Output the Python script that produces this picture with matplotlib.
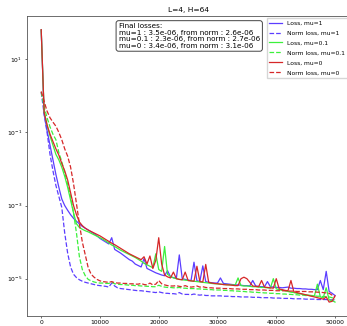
import numpy as np
import matplotlib
matplotlib.use("Agg")
import matplotlib.pyplot as plt

# training steps, one point every 500 steps
steps = np.arange(0, 50001, 500)

# log10 of the losses
lg_loss_mu1 = [1.8, -0.5, -0.95, -1.35, -1.75, -2.15, -2.5, -2.82, -3.0, -3.13,
               -3.25, -3.35, -3.43, -3.5, -3.57, -3.62, -3.67, -3.72, -3.77, -3.83,
               -3.9, -3.95, -4.0, -4.05, -3.88, -4.2, -4.25, -4.3, -4.36, -4.42,
               -4.48, -4.52, -4.6, -4.64, -4.68, -4.45, -4.72, -4.76, -4.8, -4.84,
               -4.87, -4.9, -4.92, -4.78, -4.95, -4.97, -4.99, -4.35, -5.0, -5.02,
               -5.04, -5.05, -4.55, -5.06, -5.07, -4.65, -5.08, -5.1, -5.11, -5.12,
               -5.12, -4.98, -5.13, -5.14, -5.15, -5.16, -5.17, -5.17, -5.18, -5.19,
               -5.19, -5.2, -5.05, -5.2, -5.21, -5.22, -5.22, -5.08, -5.22, -5.23,
               -5.24, -5.24, -5.25, -5.24, -5.23, -5.26, -5.26, -5.27, -5.27, -5.28,
               -5.28, -5.29, -5.29, -5.3, -5.3, -5.05, -5.3, -4.8, -5.35, -5.4,
               -5.46]
lg_norm_mu1 = [0.1, -0.5, -1.0, -1.6, -2.05, -2.45, -2.75, -3.05, -3.75, -4.3,
               -4.68, -4.88, -4.97, -5.03, -5.07, -5.1, -5.12, -5.14, -5.16, -5.18,
               -5.19, -5.2, -5.21, -5.23, -5.12, -5.2, -5.25, -5.27, -5.28, -5.29,
               -5.3, -5.31, -5.32, -5.33, -5.33, -5.34, -5.35, -5.36, -5.37, -5.38,
               -5.36, -5.38, -5.4, -5.4, -5.41, -5.41, -5.42, -5.38, -5.42, -5.43,
               -5.43, -5.44, -5.42, -5.44, -5.45, -5.44, -5.46, -5.46, -5.47, -5.47,
               -5.47, -5.47, -5.48, -5.48, -5.48, -5.49, -5.49, -5.49, -5.5, -5.5,
               -5.5, -5.5, -5.51, -5.51, -5.51, -5.52, -5.52, -5.52, -5.52, -5.53,
               -5.53, -5.53, -5.54, -5.54, -5.54, -5.54, -5.55, -5.55, -5.55, -5.55,
               -5.56, -5.56, -5.56, -5.56, -5.57, -5.57, -5.57, -5.57, -5.58, -5.58,
               -5.59]
lg_loss_mu01 = [1.8, -0.45, -0.8, -1.1, -1.35, -1.6, -1.75, -1.95, -2.2, -2.5,
                -2.85, -3.2, -3.5, -3.6, -3.65, -3.69, -3.72, -3.76, -3.8, -3.84,
                -3.88, -3.92, -3.97, -4.02, -4.08, -4.12, -4.17, -4.22, -4.26, -4.3,
                -4.34, -4.38, -4.42, -4.47, -4.52, -4.58, -4.62, -4.66, -4.7, -4.32,
                -4.75, -4.8, -4.12, -4.88, -4.94, -4.98, -5.0, -5.02, -5.03, -5.04,
                -5.05, -5.06, -5.07, -5.08, -5.09, -5.1, -5.11, -5.12, -5.13, -5.14,
                -5.14, -5.15, -5.16, -5.16, -5.17, -5.17, -5.18, -4.98, -5.19, -5.2,
                -5.2, -5.21, -5.22, -5.22, -5.23, -5.24, -5.24, -5.25, -5.26, -5.0,
                -5.28, -5.3, -5.32, -5.33, -5.35, -5.37, -5.38, -5.4, -5.41, -5.43,
                -5.44, -5.45, -5.46, -5.47, -5.15, -5.5, -5.52, -5.25, -5.58, -5.6,
                -5.64]
lg_norm_mu01 = [0.1, -0.3, -0.6, -0.85, -1.05, -1.2, -1.55, -1.8, -2.1, -2.42,
                -2.75, -3.2, -3.75, -4.4, -4.75, -4.92, -5.02, -5.06, -5.09, -5.11,
                -5.12, -5.12, -5.13, -5.13, -5.1, -5.14, -5.15, -5.16, -5.16, -5.17,
                -5.18, -5.18, -5.19, -5.19, -5.2, -5.2, -5.21, -5.21, -5.22, -5.22,
                -5.18, -5.21, -5.23, -5.24, -5.24, -5.25, -5.25, -5.24, -5.26, -5.26,
                -5.27, -5.27, -5.27, -5.28, -5.28, -5.29, -5.29, -5.3, -5.3, -5.31,
                -5.31, -5.31, -5.32, -5.32, -5.33, -5.33, -5.34, -5.34, -5.35, -5.35,
                -5.36, -5.36, -5.37, -5.37, -5.38, -5.38, -5.39, -5.39, -5.4, -5.4,
                -5.41, -5.41, -5.42, -5.42, -5.43, -5.43, -5.44, -5.44, -5.45, -5.45,
                -5.46, -5.46, -5.47, -5.47, -5.48, -5.48, -5.49, -5.49, -5.5, -5.52,
                -5.57]
lg_loss_mu0 = [1.81, -0.45, -0.8, -1.05, -1.25, -1.45, -1.62, -1.85, -2.05, -2.3,
               -2.65, -3.0, -3.25, -3.45, -3.55, -3.62, -3.67, -3.71, -3.75, -3.79,
               -3.83, -3.88, -3.93, -3.98, -4.03, -4.07, -4.12, -4.17, -4.22, -4.27,
               -4.32, -4.36, -4.4, -4.44, -4.48, -4.4, -4.6, -4.38, -4.72, -4.5,
               -3.88, -4.6, -4.9, -4.95, -4.98, -4.82, -5.0, -5.02, -5.03, -4.82,
               -5.05, -5.06, -5.07, -4.66, -5.08, -5.09, -4.61, -5.1, -5.12, -5.13,
               -5.14, -5.15, -5.16, -5.17, -5.17, -5.18, -5.19, -5.19, -5.0, -4.96,
               -5.0, -5.1, -5.2, -5.21, -5.22, -5.05, -5.23, -5.24, -5.25, -5.26,
               -5.0, -5.28, -5.3, -5.32, -5.33, -5.05, -5.36, -5.38, -5.4, -5.42,
               -5.44, -5.46, -5.48, -5.5, -5.52, -5.54, -5.56, -5.5, -5.64, -5.62,
               -5.47]
lg_norm_mu0 = [0.12, -0.15, -0.42, -0.6, -0.72, -0.83, -1.0, -1.2, -1.45, -1.65,
               -1.95, -2.4, -2.95, -3.5, -4.0, -4.35, -4.7, -4.88, -4.96, -5.02,
               -5.06, -5.08, -5.09, -5.1, -5.08, -5.11, -5.12, -5.12, -5.13, -5.13,
               -5.14, -5.14, -5.15, -5.15, -5.13, -5.16, -5.17, -5.12, -5.17, -5.15,
               -5.05, -5.14, -5.17, -5.19, -5.2, -5.2, -5.19, -5.21, -5.22, -5.19,
               -5.22, -5.23, -5.22, -5.2, -5.23, -5.22, -5.24, -5.25, -5.25, -5.26,
               -5.26, -5.26, -5.27, -5.27, -5.27, -5.28, -5.28, -5.28, -5.29, -5.29,
               -5.29, -5.3, -5.3, -5.3, -5.31, -5.31, -5.31, -5.32, -5.32, -5.32,
               -5.33, -5.33, -5.33, -5.33, -5.34, -5.34, -5.34, -5.35, -5.35, -5.35,
               -5.35, -5.36, -5.36, -5.36, -5.37, -5.37, -5.38, -5.39, -5.4, -5.45,
               -5.51]

y_ticks = [1e1, 1e-1, 1e-3, 1e-5]

final_txt = ("Final losses:\n"
             "mu=1 : 3.5e-06, from norm : 2.6e-06\n"
             "mu=0.1 : 2.3e-06, from norm : 2.7e-06\n"
             "mu=0 : 3.4e-06, from norm : 3.1e-06")

blue = "#5b3dff"
green = "#3cf03c"
red = "#d62728"

fig = plt.figure(figsize=(3.47, 3.26), dpi=100)
ax = fig.add_axes([0.0764, 0.0316, 0.9314, 0.9193])

lw = 0.9
ax.plot(steps, 10 ** np.array(lg_loss_mu1), color=blue, lw=lw, label="Loss, mu=1")
ax.plot(steps, 10 ** np.array(lg_norm_mu1), color=blue, lw=lw, ls="--", label="Norm loss, mu=1")
ax.plot(steps, 10 ** np.array(lg_loss_mu01), color=green, lw=lw, label="Loss, mu=0.1")
ax.plot(steps, 10 ** np.array(lg_norm_mu01), color=green, lw=lw, ls="--", label="Norm loss, mu=0.1")
ax.plot(steps, 10 ** np.array(lg_loss_mu0), color=red, lw=lw, label="Loss, mu=0")
ax.plot(steps, 10 ** np.array(lg_norm_mu0), color=red, lw=lw, ls="--", label="Norm loss, mu=0")

ax.set_yscale("log")
ax.set_yticks(y_ticks)
ax.minorticks_off()
ax.set_title("L=4, H=64", fontsize=5.4, pad=3)
ax.tick_params(labelsize=4.3, length=1.5, width=0.4, pad=1.5)
for s in ax.spines.values():
    s.set_linewidth(0.6)
    s.set_color("#555555")

ax.text(0.285, 0.976, final_txt, transform=ax.transAxes, fontsize=5.2,
        va="top", ha="left", linespacing=1.1,
        bbox=dict(boxstyle="round,pad=0.35", facecolor="white", edgecolor="#444444", linewidth=0.7))

ax.legend(loc="upper right", fontsize=4.3, handlelength=2.2, borderpad=0.45,
          labelspacing=0.8, borderaxespad=0.3, fancybox=False, edgecolor="#cccccc")

fig.savefig("out.png", dpi=100)
